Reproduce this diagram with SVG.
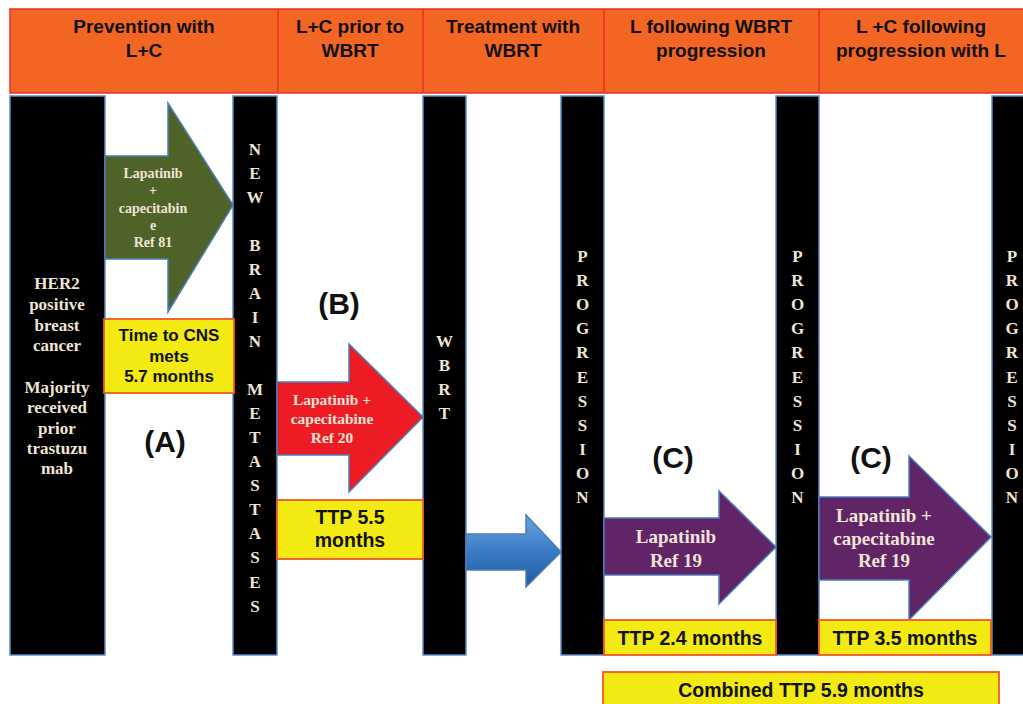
<svg xmlns="http://www.w3.org/2000/svg" width="1023" height="704" viewBox="0 0 1023 704">
<style>
.hdr{fill:#F26522;stroke:#E8302A;stroke-width:1.5}
.hdiv{stroke:#E8302A;stroke-width:1.5}
.htxt{font-family:"Liberation Sans",Arial,sans-serif;font-weight:bold;font-size:19px;fill:#111;text-anchor:middle}
.bar{fill:#000;stroke:#5B8FC9;stroke-width:1.5}
.btxt{font-family:"Liberation Serif","Times New Roman",serif;font-weight:bold;font-size:17px;fill:#EFE4D6;text-anchor:middle}
.ybox{fill:#F2EA12;stroke:#F0592A;stroke-width:1.8}
.ytxt{font-family:"Liberation Sans",Arial,sans-serif;font-weight:bold;fill:#111;text-anchor:middle}
.lbl{font-family:"Liberation Sans",Arial,sans-serif;font-weight:bold;font-size:30px;fill:#111;text-anchor:middle}
.arr{stroke:#4A7EBB;stroke-width:1.5}
.atxt{font-family:"Liberation Serif","Times New Roman",serif;font-weight:bold;fill:#EFE4D6;text-anchor:middle}
</style>
<defs>
<linearGradient id="blueg" x1="0" y1="0" x2="0" y2="1">
<stop offset="0" stop-color="#6BA5DE"/>
<stop offset="0.5" stop-color="#3A7CC4"/>
<stop offset="1" stop-color="#1F5A9E"/>
</linearGradient>
</defs>
<rect width="1023" height="704" fill="#fff"/>

<g id="header">
<rect class="hdr" x="10" y="9" width="1020" height="84"/>
<line class="hdiv" x1="278" y1="9" x2="278" y2="93"/>
<line class="hdiv" x1="423" y1="9" x2="423" y2="93"/>
<line class="hdiv" x1="604" y1="9" x2="604" y2="93"/>
<line class="hdiv" x1="819" y1="9" x2="819" y2="93"/>
<text class="htxt" x="144" y="33">Prevention with</text>
<text class="htxt" x="144" y="57">L+C</text>
<text class="htxt" x="350" y="33">L+C prior to</text>
<text class="htxt" x="350" y="57">WBRT</text>
<text class="htxt" x="513" y="33">Treatment with</text>
<text class="htxt" x="513" y="57">WBRT</text>
<text class="htxt" x="711" y="33">L following WBRT</text>
<text class="htxt" x="711" y="57">progression</text>
<text class="htxt" x="921" y="33">L +C following</text>
<text class="htxt" x="921" y="57">progression with L</text>
</g>

<g id="bar-her2">
<rect class="bar" x="10" y="96" width="95" height="559"/>
<text class="btxt" x="57" y="289">HER2</text>
<text class="btxt" x="57" y="310">positive</text>
<text class="btxt" x="57" y="331">breast</text>
<text class="btxt" x="57" y="351">cancer</text>
<text class="btxt" x="57" y="393">Majority</text>
<text class="btxt" x="57" y="413">received</text>
<text class="btxt" x="57" y="434">prior</text>
<text class="btxt" x="57" y="454">trastuzu</text>
<text class="btxt" x="57" y="474">mab</text>
</g>

<g id="bar-new-brain-metastases">
<rect class="bar" x="233" y="96" width="44" height="559"/>
<text class="btxt" x="255" y="155">N</text>
<text class="btxt" x="255" y="179">E</text>
<text class="btxt" x="255" y="203">W</text>
<text class="btxt" x="255" y="251">B</text>
<text class="btxt" x="255" y="275">R</text>
<text class="btxt" x="255" y="299">A</text>
<text class="btxt" x="255" y="323">I</text>
<text class="btxt" x="255" y="347">N</text>
<text class="btxt" x="255" y="395">M</text>
<text class="btxt" x="255" y="419">E</text>
<text class="btxt" x="255" y="443">T</text>
<text class="btxt" x="255" y="467">A</text>
<text class="btxt" x="255" y="491">S</text>
<text class="btxt" x="255" y="515">T</text>
<text class="btxt" x="255" y="539">A</text>
<text class="btxt" x="255" y="563">S</text>
<text class="btxt" x="255" y="588">E</text>
<text class="btxt" x="255" y="612">S</text>
</g>

<g id="bar-wbrt">
<rect class="bar" x="423" y="96" width="43" height="559"/>
<text class="btxt" x="444.5" y="347">W</text>
<text class="btxt" x="444.5" y="371">B</text>
<text class="btxt" x="444.5" y="395">R</text>
<text class="btxt" x="444.5" y="419">T</text>
</g>

<g id="bar-progression-1">
<rect class="bar" x="561" y="96" width="43" height="559"/>
<text class="btxt" x="582.5" y="262">P</text>
<text class="btxt" x="582.5" y="286">R</text>
<text class="btxt" x="582.5" y="310">O</text>
<text class="btxt" x="582.5" y="334">G</text>
<text class="btxt" x="582.5" y="358">R</text>
<text class="btxt" x="582.5" y="383">E</text>
<text class="btxt" x="582.5" y="407">S</text>
<text class="btxt" x="582.5" y="431">S</text>
<text class="btxt" x="582.5" y="455">I</text>
<text class="btxt" x="582.5" y="479">O</text>
<text class="btxt" x="582.5" y="503">N</text>
</g>

<g id="bar-progression-2">
<rect class="bar" x="776" y="96" width="43" height="559"/>
<text class="btxt" x="797.5" y="262">P</text>
<text class="btxt" x="797.5" y="286">R</text>
<text class="btxt" x="797.5" y="310">O</text>
<text class="btxt" x="797.5" y="334">G</text>
<text class="btxt" x="797.5" y="358">R</text>
<text class="btxt" x="797.5" y="383">E</text>
<text class="btxt" x="797.5" y="407">S</text>
<text class="btxt" x="797.5" y="431">S</text>
<text class="btxt" x="797.5" y="455">I</text>
<text class="btxt" x="797.5" y="479">O</text>
<text class="btxt" x="797.5" y="503">N</text>
</g>

<g id="bar-progression-3">
<rect class="bar" x="992" y="96" width="40" height="559"/>
<text class="btxt" x="1012" y="262">P</text>
<text class="btxt" x="1012" y="286">R</text>
<text class="btxt" x="1012" y="310">O</text>
<text class="btxt" x="1012" y="334">G</text>
<text class="btxt" x="1012" y="358">R</text>
<text class="btxt" x="1012" y="383">E</text>
<text class="btxt" x="1012" y="407">S</text>
<text class="btxt" x="1012" y="431">S</text>
<text class="btxt" x="1012" y="455">I</text>
<text class="btxt" x="1012" y="479">O</text>
<text class="btxt" x="1012" y="503">N</text>
</g>

<g id="connectors">
<g id="arrow-a">
<polygon class="arr" fill="#4F6228" points="105,156 168,156 168,103 233,205 168,312 168,259 105,259"/>
<text class="atxt" font-size="14" x="153" y="178">Lapatinib</text>
<text class="atxt" font-size="14" x="153" y="195">+</text>
<text class="atxt" font-size="14" x="153" y="213">capecitabin</text>
<text class="atxt" font-size="14" x="153" y="230">e</text>
<text class="atxt" font-size="14" x="153" y="247">Ref 81</text>
</g>
<g id="arrow-b">
<polygon class="arr" fill="#ED1C24" points="277,382 349,382 349,344 423,417 349,492 349,455 277,455"/>
<text class="atxt" font-size="15.5" x="332" y="405">Lapatinib +</text>
<text class="atxt" font-size="15.5" x="332" y="424">capecitabine</text>
<text class="atxt" font-size="15.5" x="332" y="443">Ref 20</text>
</g>
<g id="arrow-wbrt">
<polygon class="arr" fill="url(#blueg)" stroke="none" points="466,534 526,534 526,515 561,552 526,587 526,570 466,570"/>
</g>
<g id="arrow-c1">
<polygon class="arr" fill="#612466" points="604,518 719,518 719,491 776,547 719,604 719,575 604,575"/>
<text class="atxt" font-size="19" x="676" y="543">Lapatinib</text>
<text class="atxt" font-size="19" x="676" y="567">Ref 19</text>
</g>
<g id="arrow-c2">
<polygon class="arr" fill="#612466" points="819,497 909,497 909,456 991,537 909,620 909,580 819,580"/>
<text class="atxt" font-size="19" x="884" y="522">Lapatinib +</text>
<text class="atxt" font-size="19" x="884" y="545">capecitabine</text>
<text class="atxt" font-size="19" x="884" y="567">Ref 19</text>
</g>
</g>

<g id="box-time-cns">
<rect class="ybox" x="104" y="319" width="130" height="74"/>
<text class="ytxt" font-size="17" x="169" y="341">Time to CNS</text>
<text class="ytxt" font-size="17" x="169" y="362">mets</text>
<text class="ytxt" font-size="17" x="169" y="382">5.7 months</text>
</g>
<g id="box-ttp55">
<rect class="ybox" x="277" y="500" width="146" height="59"/>
<text class="ytxt" font-size="19.5" x="350" y="524">TTP 5.5</text>
<text class="ytxt" font-size="19.5" x="350" y="547">months</text>
</g>
<g id="box-ttp24">
<rect class="ybox" x="604" y="620" width="172" height="35"/>
<text class="ytxt" font-size="19.5" x="690" y="645">TTP 2.4 months</text>
</g>
<g id="box-ttp35">
<rect class="ybox" x="819" y="620" width="172" height="35"/>
<text class="ytxt" font-size="19.5" x="905" y="645">TTP 3.5 months</text>
</g>
<g id="box-combined">
<rect class="ybox" x="603" y="672" width="396" height="40"/>
<text class="ytxt" font-size="19.5" x="801" y="697">Combined TTP 5.9 months</text>
</g>

<g id="labels">
<text class="lbl" x="165" y="452">(A)</text>
<text class="lbl" x="339" y="314">(B)</text>
<text class="lbl" x="673" y="468">(C)</text>
<text class="lbl" x="871" y="468">(C)</text>
</g>
</svg>
